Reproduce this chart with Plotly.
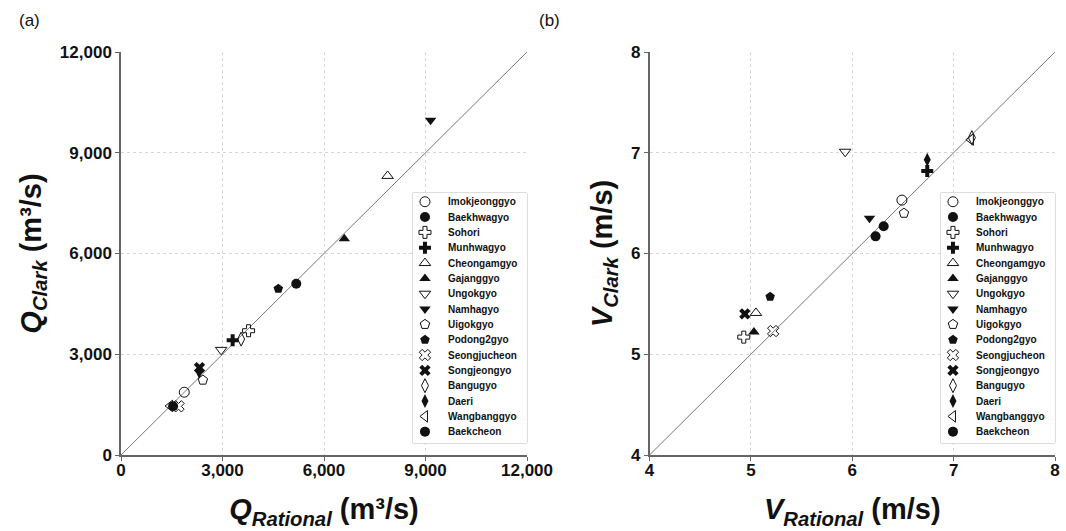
import plotly.graph_objects as go

stations = ["Imokjeonggyo", "Baekhwagyo", "Sohori", "Munhwagyo", "Cheongamgyo",
            "Gajanggyo", "Ungokgyo", "Namhagyo", "Uigokgyo", "Podong2gyo",
            "Seongjucheon", "Songjeongyo", "Bangugyo", "Daeri", "Wangbanggyo",
            "Baekcheon"]
symbols = ["circle-open", "circle", "cross-open", "cross", "triangle-up-open",
           "triangle-up", "triangle-down-open", "triangle-down", "pentagon-open",
           "pentagon", "x-open", "x", "diamond-tall-open", "diamond-tall",
           "triangle-left-open", "circle"]

q_rational = [1870, 5180, 3770, 3300, 7880, 6600, 2960, 9150, 2420, 4650,
              1700, 2320, 3550, 2310, 1450, 1540]
q_clark = [1870, 5100, 3700, 3420, 8310, 6440, 3130, 9970, 2230, 4950,
           1450, 2600, 3450, 2480, 1460, 1450]

v_rational = [6.49, 6.31, 4.93, 6.74, 5.05, 5.03, 5.93, 6.17, 6.51, 5.19,
              5.22, 4.94, 7.18, 6.74, 7.17, 6.23]
v_clark = [6.53, 6.27, 5.17, 6.82, 5.41, 5.22, 7.01, 6.35, 6.40, 5.57,
           5.23, 5.40, 7.15, 6.93, 7.13, 6.17]

q_ticks = [0, 3000, 6000, 9000, 12000]
v_ticks = [4, 5, 6, 7, 8]

W, H = 1066, 531
FONT = "Liberation Sans, Arial, sans-serif"
INK = "#111111"

fig = go.Figure()


def add_markers(xs, ys, xa, ya):
    for name, sym, x, y in zip(stations, symbols, xs, ys):
        openm = sym.endswith("-open")
        fig.add_trace(go.Scatter(
            x=[x], y=[y], mode="markers", name=name, showlegend=False,
            xaxis=xa, yaxis=ya,
            marker=dict(symbol=sym, size=10, color=INK,
                        line=dict(color=INK, width=1 if openm else 0)),
        ))


def add_legend(xa, ya):
    for i, (name, sym) in enumerate(zip(stations, symbols)):
        openm = sym.endswith("-open")
        fig.add_trace(go.Scatter(
            x=[0.105], y=[i], mode="markers", showlegend=False, hoverinfo="skip",
            xaxis=xa, yaxis=ya,
            marker=dict(symbol=sym, size=10, color=INK,
                        line=dict(color=INK, width=1 if openm else 0)),
        ))
        fig.add_annotation(x=0.29, y=i, xref=xa, yref=ya, text="<b>%s</b>" % name,
                           showarrow=False, xanchor="left", yanchor="middle",
                           font=dict(family=FONT, size=10, color=INK))


# diagonal 1:1 lines
fig.add_trace(go.Scatter(x=[q_ticks[0], q_ticks[-1]], y=[q_ticks[0], q_ticks[-1]],
                         mode="lines", line=dict(color="#777777", width=1),
                         showlegend=False, xaxis="x", yaxis="y", hoverinfo="skip"))
fig.add_trace(go.Scatter(x=[v_ticks[0], v_ticks[-1]], y=[v_ticks[0], v_ticks[-1]],
                         mode="lines", line=dict(color="#777777", width=1),
                         showlegend=False, xaxis="x2", yaxis="y2", hoverinfo="skip"))

add_markers(q_rational, q_clark, "x", "y")
add_markers(v_rational, v_clark, "x2", "y2")

ydom = [1 - 455 / H, 1 - 52 / H]
axcommon = dict(showline=True, linecolor="#666666", linewidth=1.5, ticks="outside",
                ticklen=4, tickcolor="#666666", showgrid=True, gridcolor="#d6d6d6",
                griddash="dot", gridwidth=1, zeroline=False, automargin=False,
                tickfont=dict(family=FONT, size=17, color=INK, weight="bold"))

leg_top, leg_bot = 193, 443
leg_a = [413, 527]
leg_b = [941, 1055]
hidden = dict(visible=False, showgrid=False, zeroline=False, fixedrange=True, automargin=False)

add_legend("x3", "y3")
add_legend("x4", "y4")

title_font = dict(size=29, family=FONT, color=INK)

fig.update_layout(
    width=W, height=H,
    margin=dict(l=0, r=0, t=0, b=0),
    paper_bgcolor="white", plot_bgcolor="white",
    font=dict(family=FONT, color=INK),
    showlegend=False,
    xaxis=dict(domain=[121 / W, 527 / W], range=[0, 12000], tickvals=q_ticks,
               tickformat=",d", anchor="y", ticklabelstandoff=-5,
               title=dict(text="<b><i>Q</i><sub><i>Rational</i></sub> (m³/s)</b>",
                          font=title_font, standoff=20),
               **axcommon),
    yaxis=dict(domain=ydom, range=[0, 12000], tickvals=q_ticks, tickformat=",d",
               anchor="x",
               title=dict(text="<b><i>Q</i><sub><i>Clark</i></sub> (m³/s)</b>",
                          font=title_font, standoff=10),
               **axcommon),
    xaxis2=dict(domain=[649.5 / W, 1055 / W], range=[4, 8], tickvals=v_ticks,
                anchor="y2", ticklabelstandoff=-5,
                title=dict(text="<b><i>V</i><sub><i>Rational</i></sub> (m/s)</b>",
                           font=title_font, standoff=20),
                **axcommon),
    yaxis2=dict(domain=ydom, range=[4, 8], tickvals=v_ticks, anchor="x2",
                title=dict(text="<b><i>V</i><sub><i>Clark</i></sub> (m/s)</b>",
                           font=title_font, standoff=10),
                **axcommon),
    xaxis3=dict(domain=[leg_a[0] / W, leg_a[1] / W], range=[0, 1], anchor="y3", **hidden),
    yaxis3=dict(domain=[1 - leg_bot / H, 1 - leg_top / H], range=[15.74, -0.57], anchor="x3", **hidden),
    xaxis4=dict(domain=[leg_b[0] / W, leg_b[1] / W], range=[0, 1], anchor="y4", **hidden),
    yaxis4=dict(domain=[1 - leg_bot / H, 1 - leg_top / H], range=[15.74, -0.57], anchor="x4", **hidden),
    shapes=[
        dict(type="rect", xref="paper", yref="paper", x0=leg_a[0] / W, x1=leg_a[1] / W,
             y0=1 - leg_bot / H, y1=1 - leg_top / H, line=dict(color="#bbbbbb", width=1),
             fillcolor="white", layer="below"),
        dict(type="rect", xref="paper", yref="paper", x0=leg_b[0] / W, x1=leg_b[1] / W,
             y0=1 - leg_bot / H, y1=1 - leg_top / H, line=dict(color="#bbbbbb", width=1),
             fillcolor="white", layer="below"),
    ],
)

fig.add_annotation(text="(a)", x=29 / W, y=1 - 21 / H, xref="paper", yref="paper",
                   showarrow=False, font=dict(size=17, family=FONT, color=INK),
                   xanchor="center", yanchor="middle")
fig.add_annotation(text="(b)", x=549 / W, y=1 - 21 / H, xref="paper", yref="paper",
                   showarrow=False, font=dict(size=17, family=FONT, color=INK),
                   xanchor="center", yanchor="middle")

fig.write_html("out.html", config={"displayModeBar": False},
               post_script="document.body.style.margin='0px';document.body.style.overflow='hidden';")
